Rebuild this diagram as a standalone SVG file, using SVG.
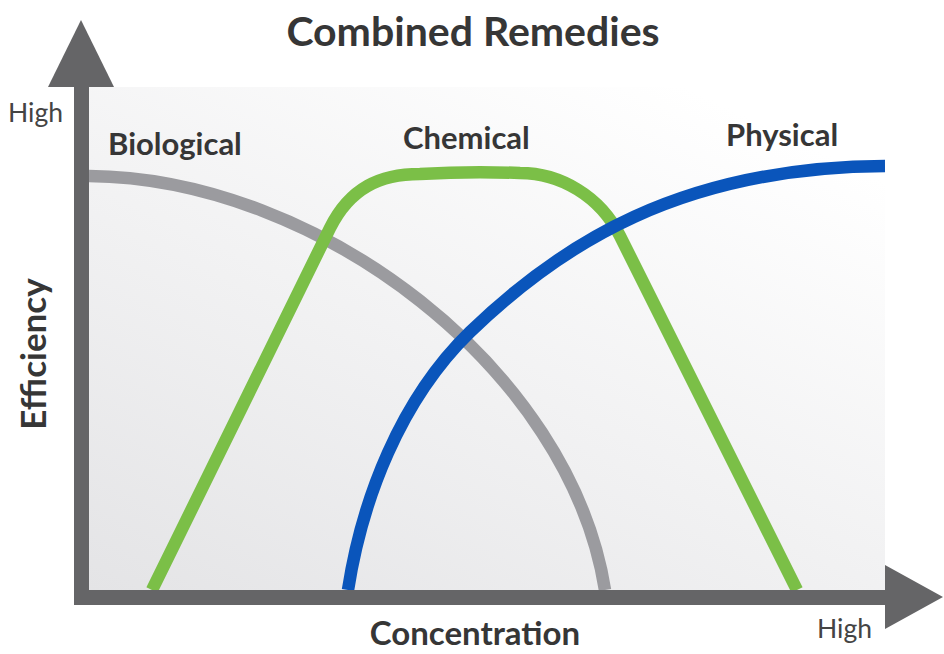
<svg xmlns="http://www.w3.org/2000/svg" width="944" height="654" viewBox="0 0 944 654">
<style>
.lbl{font-family:Lato,"Open Sans","Liberation Sans",sans-serif;font-weight:bold;fill:#363636}
.tick{font-family:Lato,"Open Sans","Liberation Sans",sans-serif;font-weight:normal;fill:#444;font-size:26.5px}
.axis{fill:#656567}
.curve{fill:none;stroke-width:12.5;stroke-linecap:butt;stroke-linejoin:round}
</style>
<defs>
<linearGradient id="bg" x1="0" y1="1" x2="0.75" y2="0">
<stop offset="0" stop-color="#e4e4e6"/>
<stop offset="1" stop-color="#ffffff"/>
</linearGradient>
</defs>
<rect width="944" height="654" fill="#ffffff"/>
<g id="plot-area">
<rect x="89" y="87" width="796" height="503" fill="url(#bg)"/>
</g>
<g id="title">
<text class="lbl" x="473" y="46" font-size="41" text-anchor="middle">Combined Remedies</text>
</g>
<g id="connectors">
<path id="biological-curve" class="curve" stroke="#9b9b9f" d="M89,176 C320,178 570,370 605,590"/>
<path id="chemical-curve" class="curve" stroke="#7bbf47" d="M152,590 L330,228 C350,188 380,174 420,174 Q470,171 520,173 C560,173 600,196 620,236 L797,590"/>
<path id="physical-curve" class="curve" stroke="#0a55bb" d="M348,590 C362,500 400,400 470,332 C560,245 680,167 885,166"/>
</g>
<g id="y-axis">
<rect class="axis" x="74" y="84" width="15" height="521"/>
<polygon class="axis" points="48,87 81,20 114,87"/>
<text class="tick" x="8" y="122">High</text>
<text class="lbl" font-size="35" text-anchor="middle" transform="translate(46,354) rotate(-90)">Efficiency</text>
</g>
<g id="x-axis">
<rect class="axis" x="74" y="590" width="814" height="15"/>
<polygon class="axis" points="885,565 943,597 885,629"/>
<text class="tick" x="817" y="638">High</text>
<text class="lbl" font-size="33" x="475" y="645" text-anchor="middle">Concentration</text>
</g>
<g id="node-biological">
<text class="lbl" font-size="31" x="108" y="155">Biological</text>
</g>
<g id="node-chemical">
<text class="lbl" font-size="31" x="403" y="149">Chemical</text>
</g>
<g id="node-physical">
<text class="lbl" font-size="31" x="726" y="146">Physical</text>
</g>
</svg>
